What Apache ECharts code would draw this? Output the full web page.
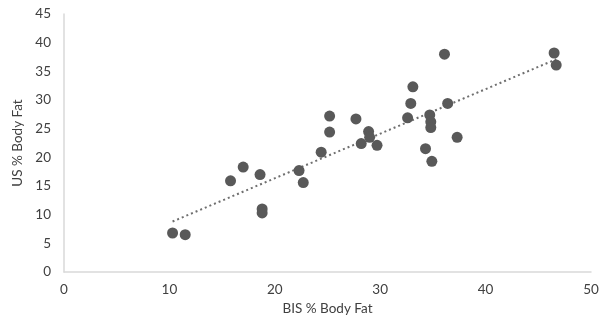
<!DOCTYPE html>
<html>
<head>
<meta charset="utf-8">
<script src="https://cdn.jsdelivr.net/npm/echarts@6/dist/echarts.min.js"></script>
<style>
  html, body { margin: 0; padding: 0; background: #fff; }
  #chart { width: 611px; height: 327px; }
</style>
</head>
<body>
<div id="chart"></div>
<script>
  // BIS vs US body fat readings
  const bisValues = [10.3, 11.5, 15.8, 17.0, 18.6, 18.8, 18.8, 22.3, 22.7, 24.4,
    25.2, 25.2, 27.7, 28.9, 29.0, 28.2, 29.7, 33.1, 32.9, 32.6,
    34.7, 34.8, 34.8, 34.3, 34.9, 37.3, 36.4, 36.1, 46.5, 46.7];
  const usValues = [6.8, 6.5, 15.9, 18.3, 17.0, 11.0, 10.3, 17.7, 15.6, 20.9,
    27.2, 24.4, 26.7, 24.5, 23.5, 22.4, 22.1, 32.3, 29.4, 26.9,
    27.4, 26.2, 25.2, 21.5, 19.3, 23.5, 29.4, 38.0, 38.2, 36.1];
  const xTicks = [0, 10, 20, 30, 40, 50];
  const yTicks = [0, 5, 10, 15, 20, 25, 30, 35, 40, 45];

  const points = bisValues.map((x, i) => [x, usValues[i]]);

  // linear trendline (least squares), drawn over the data range
  const n = points.length;
  const mx = bisValues.reduce((a, b) => a + b, 0) / n;
  const my = usValues.reduce((a, b) => a + b, 0) / n;
  let sxy = 0, sxx = 0;
  points.forEach(([x, y]) => { sxy += (x - mx) * (y - my); sxx += (x - mx) * (x - mx); });
  const slope = sxy / sxx;
  const icpt = my - slope * mx;
  const xMin = Math.min(...bisValues);
  const xMax = Math.max(...bisValues);
  const trend = [[xMin, icpt + slope * xMin], [xMax, icpt + slope * xMax]];

  const labelStyle = {
    color: "#404040",
    fontSize: 13.5,
    fontFamily: "Lato, 'Open Sans', sans-serif",
  };

  const chart = echarts.init(document.getElementById("chart"), null, { renderer: "canvas" });
  chart.setOption({
    animation: false,
    grid: { left: 64, right: 20, top: 14, bottom: 55 },
    xAxis: {
      type: "value",
      min: xTicks[0],
      max: xTicks[xTicks.length - 1],
      interval: 10,
      name: "BIS % Body Fat",
      nameLocation: "middle",
      nameGap: 30,
      nameTextStyle: labelStyle,
      axisLine: { show: true, lineStyle: { color: "#d9d9d9", width: 1.5 } },
      axisTick: { show: false },
      splitLine: { show: false },
      axisLabel: Object.assign({ margin: 11 }, labelStyle),
    },
    yAxis: {
      type: "value",
      min: yTicks[0],
      max: yTicks[yTicks.length - 1],
      interval: 5,
      name: "US % Body Fat",
      nameLocation: "middle",
      nameGap: 27,
      nameRotate: 90,
      nameTextStyle: labelStyle,
      axisLine: { show: true, lineStyle: { color: "#d9d9d9", width: 1.5 } },
      axisTick: { show: false },
      splitLine: { show: false },
      axisLabel: Object.assign({ margin: 13 }, labelStyle),
    },
    series: [
      {
        type: "line",
        data: trend,
        symbol: "none",
        lineStyle: { color: "#6f6f6f", width: 2, type: [2, 3] },
        z: 1,
      },
      {
        type: "scatter",
        data: points,
        symbolSize: 11,
        itemStyle: { color: "#595959", opacity: 1 },
        z: 2,
      },
    ],
  });
</script>
</body>
</html>
